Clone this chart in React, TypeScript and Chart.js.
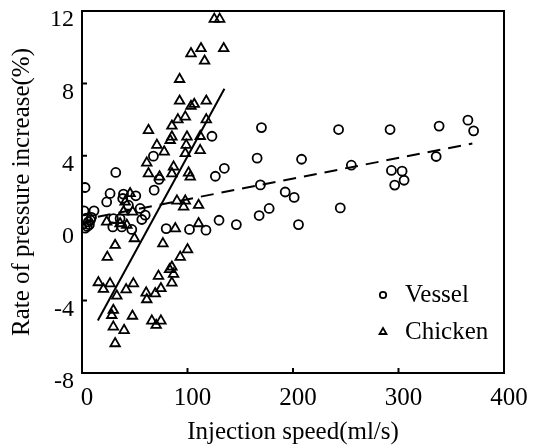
import React, { useEffect, useRef } from 'react';
import { Chart, registerables } from 'chart.js';

Chart.register(...registerables);

const xTickValues = [0, 100, 200, 300, 400];
const yTickValues = [-8, -4, 0, 4, 8, 12];

const vesselX = [2.9, 1.9, 11.4, 4, 6, 8, 5, 3, 7, 9, 23.4, 26.6, 32.0, 29.8, 29.2, 36.1, 37.7, 39.3, 38.6, 44.0, 47.2, 51.0, 55.1, 56.7, 59.9, 67.7, 73, 68.4, 79.8, 101.9, 117.5, 123.2, 126.4, 134.9, 129.9, 146.3, 166.0, 167.9, 169.1, 170.1, 177.4, 192.6, 201.1, 205.2, 208.1, 243.2, 244.8, 255.3, 292.0, 293.3, 296.4, 303.4, 305.3, 335.7, 338.5, 365.8, 371.2];
const vesselY = [2.25, 0.96, 0.96, 0.55, 0.35, 0.45, 0.1, 0.0, 0.2, 0.6, 1.45, 1.92, 3.08, 0.53, 0.07, 0.53, 0.07, 1.88, 1.64, 1.27, -0.07, 1.79, 1.09, 0.48, 0.72, 3.98, 2.7, 2.1, -0.02, -0.07, -0.11, 5.08, 2.87, 3.31, 0.44, 0.2, 3.87, 0.7, 2.39, 5.56, 1.09, 2.0, 1.7, 0.2, 3.81, 5.45, 1.12, 3.48, 5.45, 3.19, 2.38, 3.15, 2.65, 3.96, 5.64, 5.97, 5.38];

const chickenX = [125.4, 130.5, 103.3, 112.8, 116.2, 134.3, 92.5, 92.5, 103.3, 106.4, 117.8, 97.9, 90.9, 85.2, 117.8, 63.0, 85.2, 99.5, 112.1, 83.6, 71, 77.9, 98.8, 97.9, 112, 61.4, 63, 73.5, 86.8, 85.2, 101, 102.6, 45.6, 40.9, 39.3, 48, 23.4, 36.1, 42.5, 90, 97.9, 96.3, 110.5, 88.4, 110.5, 49.7, 31.4, 76.7, 100, 24, 93.1, 85.2, 83, 86.8, 72.5, 85.2, 15.5, 20.3, 26.6, 33, 41.8, 48.7, 74.8, 69.4, 60.8, 61.4, 29.7, 28.2, 47.8, 29.7, 39.9, 66.2, 70.3, 74.8, 31.4];
const chickenY = [11.55, 11.55, 9.65, 9.93, 9.24, 9.93, 8.23, 7.03, 6.74, 6.85, 7.03, 6.15, 6.0, 5.65, 6.0, 5.41, 5.05, 5.05, 5.08, 4.86, 4.59, 4.22, 4.59, 4.13, 4.3, 3.61, 3.02, 2.84, 3.39, 3.02, 3.06, 2.84, 1.92, 1.45, 0.9, 0.9, 0.35, 0.26, 0.17, 1.51, 1.51, 1.18, 1.27, -0.02, 0.26, -0.57, -0.94, -0.85, -1.18, -1.6, -1.6, -2.14, -2.28, -2.54, -2.65, -3.02, -3.0, -3.37, -3.06, -3.74, -3.39, -3.06, -3.33, -3.61, -3.57, -3.94, -4.53, -4.81, -4.85, -5.45, -5.64, -5.12, -5.36, -5.12, -6.37];

const chickenFitX = [15, 135];
const chickenFitY = [-5.1, 7.7];
const vesselFitX = [15, 370];
const vesselFitY = [0.63, 4.68];

const seriesLabels = ['Vessel', 'Chicken'];
const xTitle = 'Injection speed(ml/s)';
const yTitle = 'Rate of pressure increase(%)';

const toPoints = (xs: number[], ys: number[]) => xs.map((x, i) => ({ x, y: ys[i] }));

const FONT = 'Liberation Serif';

const framePlugin = {
  id: 'frameAndTicks',
  afterDraw(chart: any) {
    const { ctx, chartArea } = chart;
    const sx = chart.scales.x;
    const sy = chart.scales.y;
    ctx.save();
    ctx.strokeStyle = '#000';
    ctx.lineWidth = 2;
    ctx.beginPath();
    sx.ticks.forEach((t: any) => {
      const px = sx.getPixelForValue(t.value);
      ctx.moveTo(px, chartArea.bottom);
      ctx.lineTo(px, chartArea.bottom - 5);
    });
    sy.ticks.forEach((t: any) => {
      const py = sy.getPixelForValue(t.value);
      ctx.moveTo(chartArea.left, py);
      ctx.lineTo(chartArea.left + 5, py);
    });
    ctx.stroke();
    ctx.strokeRect(chartArea.left, chartArea.top, chartArea.right - chartArea.left, chartArea.bottom - chartArea.top);
    ctx.restore();
  },
};

const legendPlugin = {
  id: 'insideLegend',
  afterDraw(chart: any) {
    const { ctx, chartArea } = chart;
    const mx = chartArea.right - 121;
    const rows = [chartArea.bottom - 78, chartArea.bottom - 41];
    ctx.save();
    ctx.strokeStyle = '#000';
    ctx.fillStyle = '#000';
    ctx.lineWidth = 1.8;
    rows.forEach((ry, i) => {
      ctx.beginPath();
      if (i === 0) {
        ctx.arc(mx, ry, 3.2, 0, Math.PI * 2);
      } else {
        const r = 4;
        ctx.moveTo(mx, ry - r);
        ctx.lineTo(mx + r * 0.866, ry + r * 0.5);
        ctx.lineTo(mx - r * 0.866, ry + r * 0.5);
        ctx.closePath();
      }
      ctx.stroke();
      ctx.font = `25px "${FONT}"`;
      ctx.textBaseline = 'middle';
      ctx.textAlign = 'left';
      ctx.fillText(seriesLabels[i], mx + 22, ry);
    });
    ctx.restore();
  },
};

export default function App() {
  const ref = useRef<HTMLCanvasElement>(null);
  useEffect(() => {
    document.body.style.margin = '0';
    const chart = new Chart(ref.current as HTMLCanvasElement, {
      type: 'scatter',
      data: {
        datasets: [
          {
            label: seriesLabels[0],
            data: toPoints(vesselX, vesselY),
            pointStyle: 'circle',
            pointRadius: 4.5,
            borderWidth: 1.8,
            borderColor: '#000',
            backgroundColor: 'rgba(0,0,0,0)',
          },
          {
            label: seriesLabels[1],
            data: toPoints(chickenX, chickenY),
            pointStyle: 'triangle',
            pointRadius: 5.5,
            borderWidth: 1.8,
            borderColor: '#000',
            backgroundColor: 'rgba(0,0,0,0)',
          },
          {
            label: 'Chicken fit',
            data: toPoints(chickenFitX, chickenFitY),
            showLine: true,
            pointRadius: 0,
            borderColor: '#000',
            borderWidth: 2,
          },
          {
            label: 'Vessel fit',
            data: toPoints(vesselFitX, vesselFitY),
            showLine: true,
            pointRadius: 0,
            borderColor: '#000',
            borderWidth: 2,
            borderDash: [13, 8],
          },
        ],
      } as any,
      options: {
        animation: false,
        responsive: false,
        layout: { padding: { top: 11, right: 34, left: 0, bottom: 0 }, autoPadding: false },
        plugins: { legend: { display: false }, tooltip: { enabled: false } },
        scales: {
          x: {
            type: 'linear',
            min: 0,
            max: 400,
            afterBuildTicks: (s: any) => { s.ticks = xTickValues.map((v) => ({ value: v })); },
            afterFit: (s: any) => { s.height = 74; s.paddingLeft = 0; s.paddingRight = 0; },
            grid: { display: false, drawTicks: false },
            border: { display: false },
            ticks: { font: { family: FONT, size: 25 }, color: '#000', padding: 10, labelOffset: 5, maxRotation: 0 },
            title: { display: true, text: xTitle, font: { family: FONT, size: 25 }, color: '#000', padding: { top: 0, bottom: 0 } },
          },
          y: {
            type: 'linear',
            min: -8,
            max: 12,
            afterBuildTicks: (s: any) => { s.ticks = yTickValues.map((v) => ({ value: v })); },
            afterFit: (s: any) => { s.width = 82; s.paddingTop = 0; s.paddingBottom = 0; },
            grid: { display: false, drawTicks: false },
            border: { display: false },
            ticks: { font: { family: FONT, size: 24 }, color: '#000', padding: 8, labelOffset: 9 },
            title: { display: true, text: yTitle, font: { family: FONT, size: 25 }, color: '#000', padding: { top: 7, bottom: 0 } },
          },
        },
      } as any,
      plugins: [framePlugin, legendPlugin],
    });
    return () => chart.destroy();
  }, []);
  return (
    <div style={{ width: 538, height: 447 }}>
      <canvas ref={ref} width={538} height={447} style={{ display: 'block' }} />
    </div>
  );
}
